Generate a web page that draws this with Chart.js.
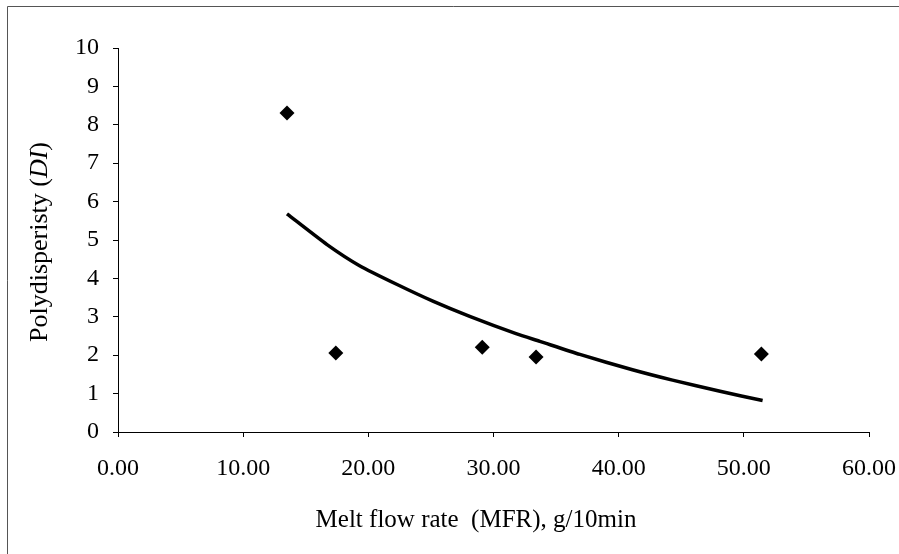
<!DOCTYPE html>
<html>
<head>
<meta charset="utf-8">
<script src="https://cdn.jsdelivr.net/npm/chart.js@4"></script>
<style>
  body { margin: 0; background: #fff; }
  #wrap { width: 899px; height: 554px; }
</style>
</head>
<body>
<div id="wrap"><canvas id="chart" width="899" height="554"></canvas></div>
<script>
// measured points (MFR vs DI)
const mfr = [13.5, 17.4, 29.1, 33.4, 51.4];
const di = [8.31, 2.06, 2.21, 1.95, 2.03];

// trend curve
const trendX = [13.5, 16.7, 19.3, 22.3, 25.2, 28.1, 31.8, 33.7, 36.9, 41.1, 44.3, 48.1, 51.5];
const trendY = [5.68, 4.88, 4.33, 3.84, 3.40, 3.01, 2.56, 2.36, 2.02, 1.62, 1.35, 1.06, 0.82];

const xTicks = [0, 10, 20, 30, 40, 50, 60];
const yTicks = [0, 1, 2, 3, 4, 5, 6, 7, 8, 9, 10];

const xTitle = 'Melt flow rate  (MFR), g/10min';
const serif = "'Liberation Serif', 'Times New Roman', serif";

// frame lines + axis titles (y title has italic DI)
const extras = {
  id: 'extras',
  beforeDraw(chart) {
    const c = chart.ctx;
    c.save();
    c.strokeStyle = '#555';
    c.lineWidth = 1;
    c.beginPath();
    c.moveTo(7.5, 554);
    c.lineTo(7.5, 6.5);
    c.lineTo(899, 6.5);
    c.stroke();
    c.restore();
  },
  afterDraw(chart) {
    const c = chart.ctx;
    const a = chart.chartArea;
    c.save();
    c.fillStyle = '#000';

    // x title
    c.font = '25px ' + serif;
    c.textAlign = 'center';
    c.textBaseline = 'alphabetic';
    c.fillText(xTitle, 476, 527);

    // y title
    const parts = [
      { t: 'Polydisperisty (', f: '26px ' + serif },
      { t: 'DI', f: 'italic 26px ' + serif },
      { t: ')', f: '26px ' + serif }
    ];
    let total = 0;
    parts.forEach(p => { c.font = p.f; total += c.measureText(p.t).width; });
    c.translate(40, (a.top + a.bottom) / 2 + 2);
    c.rotate(-Math.PI / 2);
    c.textAlign = 'left';
    c.textBaseline = 'middle';
    let x = -total / 2;
    parts.forEach(p => { c.font = p.f; c.fillText(p.t, x, 0); x += c.measureText(p.t).width; });
    c.restore();
  }
};

new Chart(document.getElementById('chart'), {
  type: 'scatter',
  data: {
    datasets: [{
      label: 'DI',
      data: mfr.map((v, i) => ({ x: v, y: di[i] })),
      pointStyle: 'rectRot',
      pointRadius: 7.5,
      backgroundColor: '#000',
      borderColor: '#000',
      borderWidth: 0,
      showLine: false
    }, {
      label: 'trend',
      data: trendX.map((v, i) => ({ x: v, y: trendY[i] })),
      showLine: true,
      borderColor: '#000',
      borderWidth: 3.5,
      pointRadius: 0,
      tension: 0.2,
      fill: false
    }]
  },
  options: {
    responsive: false,
    animation: false,
    layout: { padding: { top: 48, right: 30, left: 0, bottom: 0 } },
    plugins: { legend: { display: false }, tooltip: { enabled: false } },
    scales: {
      x: {
        type: 'linear',
        min: 0, max: 60,
        afterBuildTicks: s => { s.ticks = xTicks.map(v => ({ value: v })); },
        afterFit: s => { s.height = 122; s.paddingLeft = 0; s.paddingRight = 0; },
        grid: { drawOnChartArea: false, drawTicks: true, tickLength: 5, color: '#000' },
        border: { display: true, color: '#000', width: 1 },
        ticks: {
          color: '#000',
          font: { family: serif, size: 24 },
          padding: 17,
          maxRotation: 0,
          callback: v => Number(v).toFixed(2)
        }
      },
      y: {
        type: 'linear',
        min: 0, max: 10,
        afterBuildTicks: s => { s.ticks = yTicks.map(v => ({ value: v })); },
        afterFit: s => { s.width = 118; s.paddingTop = 0; s.paddingBottom = 0; },
        grid: { drawOnChartArea: false, drawTicks: true, tickLength: 5, color: '#000' },
        border: { display: true, color: '#000', width: 1 },
        ticks: {
          color: '#000',
          font: { family: serif, size: 24 },
          padding: 14
        }
      }
    }
  },
  plugins: [extras]
});
</script>
</body>
</html>
